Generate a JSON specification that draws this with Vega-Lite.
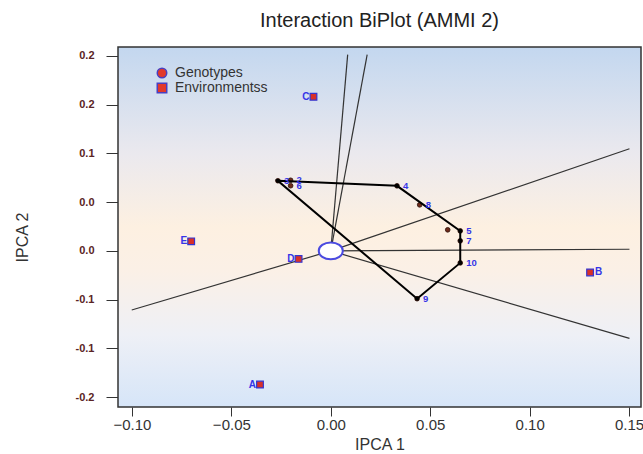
{
  "$schema": "https://vega.github.io/schema/vega-lite/v6.json",
  "width": 523,
  "height": 360,
  "autosize": "none",
  "padding": {"left": 118, "top": 47, "right": 2, "bottom": 47},
  "background": "white",
  "title": {"text": "Interaction BiPlot (AMMI 2)", "fontSize": 20, "font": "Liberation Sans", "fontWeight": "normal", "color": "#222222", "offset": 15, "anchor": "middle"},
  "config": {"view": {"stroke": null}, "font": "Liberation Sans"},
  "datasets": {
    "genotypes": [
      {"g": "1", "x": 0.0588, "y": 0.0216, "hull": null},
      {"g": "2", "x": -0.0202, "y": 0.0724, "hull": null},
      {"g": "3", "x": -0.0266, "y": 0.0719, "hull": 1},
      {"g": "4", "x": 0.0333, "y": 0.0667, "hull": 2},
      {"g": "5", "x": 0.0651, "y": 0.0205, "hull": 3},
      {"g": "6", "x": -0.0202, "y": 0.0668, "hull": null},
      {"g": "7", "x": 0.0651, "y": 0.0103, "hull": 4},
      {"g": "8", "x": 0.0447, "y": 0.0472, "hull": null},
      {"g": "9", "x": 0.0434, "y": -0.049, "hull": 6},
      {"g": "10", "x": 0.0651, "y": -0.0123, "hull": 5}
    ],
    "environments": [
      {"e": "A", "x": -0.0356, "y": -0.137},
      {"e": "B", "x": 0.1304, "y": -0.0221},
      {"e": "C", "x": -0.0087, "y": 0.158},
      {"e": "D", "x": -0.0162, "y": -0.0082},
      {"e": "E", "x": -0.0702, "y": 0.0098}
    ],
    "rays": [
      {"x": 0.0085, "y": 0.2012},
      {"x": 0.0183, "y": 0.2012},
      {"x": 0.1502, "y": 0.1047},
      {"x": -0.1001, "y": -0.0606},
      {"x": 0.1502, "y": 0.0017},
      {"x": 0.1502, "y": -0.0896}
    ]
  },
  "layer": [
    {
      "data": {"values": [{}]},
      "mark": {
        "type": "rect",
        "stroke": "#333333",
        "strokeWidth": 1.5,
        "color": {
          "gradient": "linear", "x1": 0, "y1": 0, "x2": 0, "y2": 1,
          "stops": [
            {"offset": 0, "color": "#c3d7ef"},
            {"offset": 0.3, "color": "#ebe9ee"},
            {"offset": 0.5, "color": "#fdf0e1"},
            {"offset": 0.62, "color": "#fbf0e6"},
            {"offset": 0.8, "color": "#eef0f6"},
            {"offset": 1, "color": "#d6e5f8"}
          ]
        }
      },
      "encoding": {
        "x": {
          "datum": -0.107, "type": "quantitative",
          "scale": {"domain": [-0.107, 0.156], "nice": false, "zero": false},
          "axis": {
            "title": "IPCA 1", "values": [-0.1, -0.05, 0, 0.05, 0.1, 0.15], "format": ".2f",
            "domain": false, "grid": false, "tickColor": "#333333", "tickSize": 9,
            "labelFontSize": 15, "labelColor": "#333333", "labelPadding": 1, "labelFlush": false,
            "titleFontSize": 16, "titleFontWeight": "normal", "titleColor": "#333333", "titlePadding": 4
          }
        },
        "x2": {"datum": 0.156},
        "y": {
          "datum": 0.209, "type": "quantitative",
          "scale": {"domain": [-0.16, 0.209], "nice": false, "zero": false},
          "axis": {
            "title": "IPCA 2", "values": [-0.15, -0.1, -0.05, 0, 0.05, 0.1, 0.15, 0.2],
            "labelExpr": "datum.value >= 0.125 ? '0.2' : datum.value >= 0.075 ? '0.1' : datum.value >= -0.025 ? '0.0' : datum.value >= -0.125 ? '-0.1' : '-0.2'",
            "domain": false, "grid": false, "tickColor": "#333333", "tickSize": 12,
            "labelFontSize": 11, "labelFontWeight": "bold", "labelColor": "#5a2424", "labelPadding": 12,
            "titleFontSize": 16, "titleFontWeight": "normal", "titleColor": "#333333",
            "titleX": -96, "titleY": 190, "titleAngle": -90, "titleAlign": "center", "titleBaseline": "middle"
          }
        },
        "y2": {"datum": -0.16}
      }
    },
    {
      "data": {"name": "genotypes"},
      "transform": [{"filter": "false"}],
      "mark": {"type": "point", "filled": true, "size": 90, "fill": "#e2392b", "stroke": "#4a3fc0", "strokeWidth": 1.5, "opacity": 1},
      "encoding": {
        "x": {"field": "x", "type": "quantitative"},
        "y": {"field": "y", "type": "quantitative"},
        "shape": {
          "datum": "Genotypes",
          "scale": {"domain": ["Genotypes", "Environmentss"], "range": ["circle", "square"]},
          "legend": {
            "title": null, "orient": "none", "legendX": 37, "legendY": 19, "padding": 0,
            "labelFontSize": 14, "labelColor": "#333333", "labelOffset": 6, "symbolSize": 90,
            "rowPadding": -2
          }
        }
      }
    },
    {
      "data": {"name": "rays"},
      "mark": {"type": "rule", "color": "#333333", "strokeWidth": 1.2},
      "encoding": {
        "x": {"field": "x", "type": "quantitative"},
        "y": {"field": "y", "type": "quantitative"},
        "x2": {"datum": 0},
        "y2": {"datum": 0}
      }
    },
    {
      "data": {"values": [{}]},
      "mark": {"type": "point", "shape": "M-1,0A1,0.7 0 1,0 1,0A1,0.7 0 1,0 -1,0Z", "size": 580, "filled": true, "fill": "white", "stroke": "#4a4ae0", "strokeWidth": 2, "opacity": 1},
      "encoding": {
        "x": {"datum": 0, "type": "quantitative"},
        "y": {"datum": 0, "type": "quantitative"}
      }
    },
    {
      "data": {"name": "genotypes"},
      "mark": {"type": "point", "filled": true, "size": 22, "fill": "#6e2a1a", "stroke": "#2b0c06", "strokeWidth": 0.8, "opacity": 1},
      "encoding": {
        "x": {"field": "x", "type": "quantitative"},
        "y": {"field": "y", "type": "quantitative"},
        "shape": {"datum": "Genotypes", "legend": null}
      }
    },
    {
      "data": {"name": "genotypes"},
      "transform": [{"filter": "datum.hull != null"}],
      "mark": {"type": "line", "interpolate": "linear-closed", "color": "black", "strokeWidth": 2, "point": {"filled": true, "color": "black", "size": 18, "opacity": 1}},
      "encoding": {
        "x": {"field": "x", "type": "quantitative"},
        "y": {"field": "y", "type": "quantitative"},
        "order": {"field": "hull", "type": "quantitative"}
      }
    },
    {
      "data": {"name": "environments"},
      "mark": {"type": "point", "filled": true, "size": 45, "fill": "#d83028", "stroke": "#3535d0", "strokeWidth": 1.2, "opacity": 1},
      "encoding": {
        "x": {"field": "x", "type": "quantitative"},
        "y": {"field": "y", "type": "quantitative"},
        "shape": {"datum": "Environmentss", "legend": null}
      }
    },
    {
      "data": {"name": "genotypes"},
      "transform": [{"filter": "datum.g != '1'"}],
      "mark": {"type": "text", "align": "left", "dx": 6, "fontSize": 9.5, "fontWeight": "bold", "color": "#3535e8"},
      "encoding": {
        "x": {"field": "x", "type": "quantitative"},
        "y": {"field": "y", "type": "quantitative"},
        "text": {"field": "g"}
      }
    },
    {
      "data": {"name": "environments"},
      "transform": [{"filter": "datum.e != 'B'"}],
      "mark": {"type": "text", "align": "right", "dx": -4, "fontSize": 10, "fontWeight": "bold", "color": "#3535e8"},
      "encoding": {
        "x": {"field": "x", "type": "quantitative"},
        "y": {"field": "y", "type": "quantitative"},
        "text": {"field": "e"}
      }
    },
    {
      "data": {"name": "environments"},
      "transform": [{"filter": "datum.e == 'B'"}],
      "mark": {"type": "text", "align": "left", "dx": 5, "fontSize": 10, "fontWeight": "bold", "color": "#3535e8"},
      "encoding": {
        "x": {"field": "x", "type": "quantitative"},
        "y": {"field": "y", "type": "quantitative"},
        "text": {"field": "e"}
      }
    }
  ]
}
